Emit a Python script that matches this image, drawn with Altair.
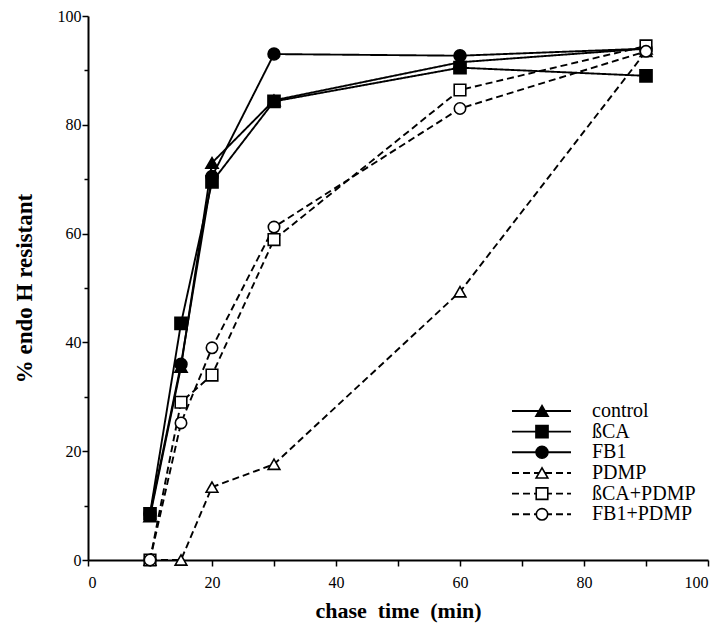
import altair as alt
import pandas as pd

# ---- data ----
series_names = ["control", "ßCA", "FB1", "PDMP", "ßCA+PDMP", "FB1+PDMP"]
times_all = [10, 15, 20, 30, 60, 90]
control = [8.0, 35.5, 73.0, 84.5, 91.5, 94.0]
bca = [8.5, 43.5, 69.5, 84.3, 90.5, 89.0]
fb1 = [8.5, 36.0, 70.5, 93.0, 92.7, 94.0]
pdmp_times = [10, 15, 20, 30, 60, 90]
pdmp = [0.0, 0.0, 13.4, 17.6, 49.3, 93.5]
bca_pdmp = [0.0, 29.0, 34.0, 58.9, 86.4, 94.5]
fb1_pdmp = [0.0, 25.2, 39.0, 61.2, 83.0, 93.5]

x_ticks = list(range(0, 101, 10))
y_ticks = list(range(0, 101, 10))

rows = []
for name, ts, vs in [
    ("control", times_all, control),
    ("ßCA", times_all, bca),
    ("FB1", times_all, fb1),
    ("PDMP", pdmp_times, pdmp),
    ("ßCA+PDMP", times_all, bca_pdmp),
    ("FB1+PDMP", times_all, fb1_pdmp),
]:
    for t, v in zip(ts, vs):
        rows.append({"series": name, "time": t, "value": v, "order": series_names.index(name)})
df = pd.DataFrame(rows)

# legend table (row positions expressed on the y scale)
LEG_TOP = 27.4
LEG_STEP = 3.8
leg = pd.DataFrame({
    "series": series_names,
    "ly": [LEG_TOP - i * LEG_STEP for i in range(len(series_names))],
})

FONT = "Liberation Serif"
NB = "\u00a0"
dash_scale = alt.Scale(domain=series_names, range=[[1, 0], [1, 0], [1, 0], [7, 4], [7, 4], [7, 4]])
shape_scale = alt.Scale(domain=series_names,
                        range=["triangle-up", "square", "circle", "triangle-up", "square", "circle"])
fill_scale = alt.Scale(domain=series_names,
                       range=["black", "black", "black", "white", "white", "white"])
size_scale = alt.Scale(domain=series_names, range=[150, 130, 130, 140, 110, 110])

minor_tick = {"condition": {"test": "datum.value % 20 === 0", "value": 6}, "value": 4}

x_enc = alt.X("time:Q",
              scale=alt.Scale(domain=[0, 100], nice=False, zero=False),
              axis=alt.Axis(values=x_ticks,
                            labelExpr="datum.value % 20 == 0 ? datum.label : ''",
                            title=f"chase{NB}{NB}time{NB}{NB}(min)",
                            tickSize=6, labelPadding=8, titlePadding=10, grid=False))
y_enc = alt.Y("value:Q",
              scale=alt.Scale(domain=[0, 100], nice=False),
              axis=alt.Axis(values=y_ticks,
                            labelExpr="datum.value % 20 == 0 ? datum.label : ''",
                            title=f"%{NB}endo{NB}H{NB}resistant",
                            titleFontSize=23,
                            tickSize=minor_tick, labelPadding=1, titlePadding=21, grid=False))

base = alt.Chart(df)
lines = base.mark_line(color="black", strokeWidth=1.9).encode(
    x=x_enc, y=y_enc,
    detail="series:N",
    strokeDash=alt.StrokeDash("series:N", scale=dash_scale, legend=None),
    order="time:Q",
)
points = base.mark_point(filled=False, stroke="black", strokeWidth=1.6, opacity=1).encode(
    x="time:Q", y="value:Q",
    shape=alt.Shape("series:N", scale=shape_scale, legend=None),
    fill=alt.Fill("series:N", scale=fill_scale, legend=None),
    size=alt.Size("series:N", scale=size_scale, legend=None),
    order="order:Q",
)

legb = alt.Chart(leg)
leg_lines = legb.mark_rule(color="black", strokeWidth=1.9).encode(
    x=alt.value(424), x2=alt.value(483),
    y=alt.Y("ly:Q"),
    strokeDash=alt.StrokeDash("series:N", scale=dash_scale, legend=None),
)
leg_pts = legb.mark_point(filled=False, stroke="black", strokeWidth=1.6, opacity=1).encode(
    x=alt.value(454),
    y=alt.Y("ly:Q"),
    shape=alt.Shape("series:N", scale=shape_scale, legend=None),
    fill=alt.Fill("series:N", scale=fill_scale, legend=None),
    size=alt.Size("series:N", scale=size_scale, legend=None),
)
leg_text = legb.mark_text(align="left", baseline="middle", font=FONT, fontSize=20, color="black").encode(
    x=alt.value(504),
    y=alt.Y("ly:Q"),
    text="series:N",
)

chart = alt.layer(lines, points, leg_lines, leg_pts, leg_text).properties(
    width=620, height=544,
    autosize=alt.AutoSizeParams(type="none"),
    padding={"left": 80, "top": 8, "right": 4, "bottom": 63},
    background="white",
).configure_view(stroke=None).configure_axis(
    grid=False,
    domainColor="black", domainWidth=2,
    tickColor="black", tickWidth=1.5,
    labelFont=FONT, labelFontSize=16, labelColor="black",
    titleFont=FONT, titleFontSize=22, titleFontWeight="bold", titleColor="black",
)

chart.save("out.html", embed_options={"renderer": "svg", "actions": False})
